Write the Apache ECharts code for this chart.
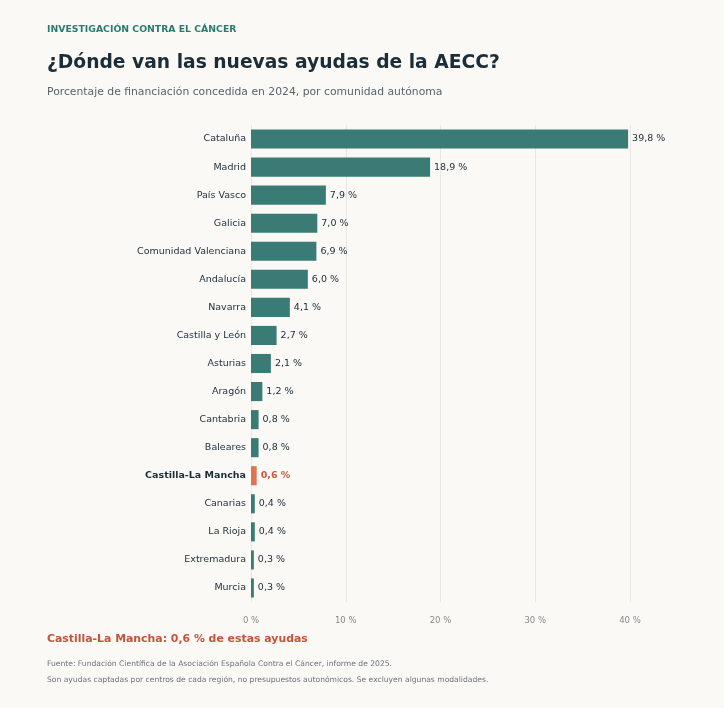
<!DOCTYPE html>
<html>
<head>
<meta charset="utf-8">
<script src="https://cdn.jsdelivr.net/npm/echarts@6/dist/echarts.min.js"></script>
<style>
  html, body { margin: 0; padding: 0; background: #faf9f6; }
  #chart { width: 724px; height: 708px; }
</style>
</head>
<body>
<div id="chart"></div>
<script>
  // datos
  const regiones = ['Cataluña', 'Madrid', 'País Vasco', 'Galicia', 'Comunidad Valenciana', 'Andalucía',
    'Navarra', 'Castilla y León', 'Asturias', 'Aragón', 'Cantabria', 'Baleares', 'Castilla-La Mancha',
    'Canarias', 'La Rioja', 'Extremadura', 'Murcia'];
  const porcentajes = [39.8, 18.9, 7.9, 7.0, 6.9, 6.0, 4.1, 2.7, 2.1, 1.2, 0.8, 0.8, 0.6, 0.4, 0.4, 0.3, 0.3];
  const destacada = 'Castilla-La Mancha';
  const ticksX = [0, 10, 20, 30, 40];

  const teal = '#3a7b75';
  const naranja = '#e07352';
  const fmt = v => v.toFixed(1).replace('.', ',') + ' %';

  const chart = echarts.init(document.getElementById('chart'));

  chart.setOption({
    backgroundColor: '#faf9f6',
    textStyle: { fontFamily: 'DejaVu Sans' },
    title: [
      { text: 'INVESTIGACIÓN CONTRA EL CÁNCER', left: 47, top: 25, padding: 0,
        textStyle: { fontSize: 9.3, fontWeight: 'bold', color: '#2a7a6e' } },
      { text: '¿Dónde van las nuevas ayudas de la AECC?', left: 47, top: 54, padding: 0,
        textStyle: { fontSize: 18.7, fontWeight: 'bold', color: '#1b2d38' } },
      { text: 'Porcentaje de financiación concedida en 2024, por comunidad autónoma', left: 47, top: 87, padding: 0,
        textStyle: { fontSize: 10.8, fontWeight: 'normal', color: '#56636b' } },
      { text: 'Castilla-La Mancha: 0,6 % de estas ayudas', left: 47, top: 634, padding: 0,
        textStyle: { fontSize: 10.9, fontWeight: 'bold', color: '#c0553a' } },
      { text: 'Fuente: Fundación Científica de la Asociación Española Contra el Cáncer, informe de 2025.', left: 47, top: 660, padding: 0,
        textStyle: { fontSize: 7.6, fontWeight: 'normal', color: '#6b7378' } },
      { text: 'Son ayudas captadas por centros de cada región, no presupuestos autonómicos. Se excluyen algunas modalidades.', left: 47, top: 676, padding: 0,
        textStyle: { fontSize: 7.6, fontWeight: 'normal', color: '#6b7378' } }
    ],
    grid: { left: 251, right: 94, top: 125, bottom: 106, containLabel: false },
    xAxis: {
      type: 'value', min: ticksX[0], max: ticksX[ticksX.length - 1], interval: 10,
      axisLine: { show: false }, axisTick: { show: false },
      splitLine: { lineStyle: { color: '#e9e7e2', width: 1 } },
      axisLabel: { formatter: v => v + ' %', color: '#858b8f', fontSize: 8.5, margin: 14 }
    },
    yAxis: {
      type: 'category', data: regiones, inverse: true,
      axisLine: { show: false }, axisTick: { show: false },
      axisLabel: {
        margin: 5, fontSize: 9.5, color: '#1c2b36',
        formatter: v => v === destacada ? '{b|' + v + '}' : v,
        rich: { b: { fontWeight: 'bold', fontSize: 9.5, color: '#1b2d38' } }
      }
    },
    series: [{
      type: 'bar',
      barCategoryGap: '32%',
      data: porcentajes.map((v, i) => ({
        value: v,
        itemStyle: { color: regiones[i] === destacada ? naranja : teal },
        label: regiones[i] === destacada ? { color: '#c95a3c', fontWeight: 'bold' } : undefined
      })),
      label: {
        show: true, position: 'right', distance: 4, fontSize: 9.5, color: '#1c2b36',
        formatter: p => fmt(p.value)
      },
      silent: true
    }],
    animation: false
  });
</script>
</body>
</html>
